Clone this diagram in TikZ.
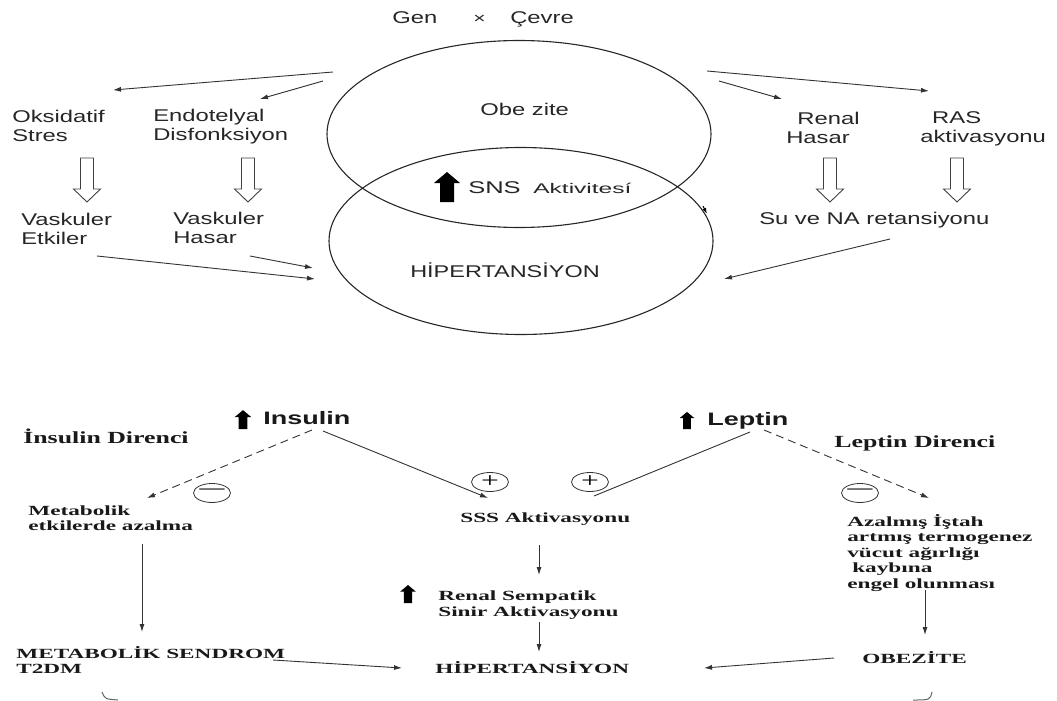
\documentclass[tikz,border=0pt]{standalone}
\usepackage{fontspec}
\usepackage{graphicx}
\setmainfont{Liberation Serif}
\setsansfont{Liberation Sans}
\usetikzlibrary{arrows.meta,shapes.geometric}
\tikzset{
  blkup/.pic={\fill[black] (-7,0) -- (7,0) -- (7,-19) -- (13,-19) -- (0,-30) -- (-13,-19) -- (-7,-19) -- cycle;},
  hollowdn/.pic={\draw[black!75, line width=0.9pt] (-6.5,0) -- (6.5,0) -- (6.5,31) -- (13.5,31) -- (0,44) -- (-13.5,31) -- (-6.5,31) -- cycle;},
  sansbase/.style={inner sep=0, align=left, text=black!85},
  sans/.style={sansbase, font=\sffamily\fontsize{17}{19}\selectfont, xscale=1.4},
  sansb/.style={font=\sffamily\bfseries\fontsize{18}{18}\selectfont, xscale=1.5, inner sep=0, text=black!90},
  serbase/.style={inner sep=0, align=left, text=black!90},
  ser/.style={serbase, font=\bfseries\fontsize{14}{15.5}\selectfont, xscale=1.66},
  serbig/.style={serbase, font=\bfseries\fontsize{17}{17}\selectfont, xscale=1.52},
  venn/.style={draw=black!85, line width=1.1pt, ellipse, inner sep=0, minimum width=384, minimum height=187},
  sgn/.style={draw=black!80, line width=0.8pt, ellipse, inner sep=0, minimum width=37, minimum height=19},
  arr/.style={draw=black!80, line width=0.9pt, -{Latex[length=8pt,width=5pt]}},
  dsh/.style={arr, dash pattern=on 8pt off 5pt},
  plain/.style={draw=black!80, line width=0.9pt}
}
\begin{document}
\begin{tikzpicture}[x=1pt,y=-1pt]
\useasboundingbox (0,0) rectangle (1057,701);

% ---------- top part ----------
\node[sans, anchor=base west] (gen) at (392,24) {Gen};
\node[sansbase, anchor=base west, font=\sffamily\fontsize{15}{15}\selectfont, xscale=1.4] (kez) at (473,24) {×};
\node[sans, anchor=base west] (cevre) at (510,24) {Çevre};

\node[venn] (obe) at (519,134) {};
\node[venn] (hip) at (521,241) {};

\node[sans, anchor=base west] (obet) at (480,115) {Obe zite};
\pic at (447,202) {blkup};
\node[sansbase, anchor=base west, font=\sffamily\fontsize{17}{17}\selectfont, xscale=1.5] (sns) at (468,193) {SNS};
\node[sansbase, anchor=base west, font=\sffamily\fontsize{14}{14}\selectfont, xscale=1.75] (akt) at (533,193) {Aktivitesí};
\node[sansbase, anchor=base west, font=\sffamily\fontsize{17}{17}\selectfont, xscale=1.38] (hipt) at (410,277) {HİPERTANSİYON};

\node[sans, anchor=west] (oks) at (12,126) {Oksidatif\\Stres};
\node[sans, anchor=west] (endo) at (153,127) {Endotelyal\\Disfonksiyon};
\node[sans, anchor=west] (vask1) at (21,229) {Vaskuler\\Etkiler};
\node[sans, anchor=west] (vask2) at (173,228) {Vaskuler\\Hasar};
\node[sans, anchor=west] (renal) at (786,128) {\hspace*{8pt}Renal\\Hasar};
\node[sans, anchor=west] (ras) at (920,128.5) {\hspace*{8.5pt}RAS\\aktivasyonu};
\node[sans, anchor=base west] (su) at (759,224) {Su ve NA retansiyonu};

\pic at (87,158) {hollowdn};
\pic at (248,158) {hollowdn};
\pic at (830,158) {hollowdn};
\pic at (957,158) {hollowdn};

\coordinate (a1s) at (333,72);  \coordinate (a1e) at (113,90);
\coordinate (a2s) at (323,81);  \coordinate (a2e) at (260,99);
\coordinate (a3s) at (707,71);  \coordinate (a3e) at (929,91);
\coordinate (a4s) at (719,81);  \coordinate (a4e) at (782,99);
\coordinate (a5s) at (97,256);  \coordinate (a5e) at (315,279);
\coordinate (a6s) at (250,256); \coordinate (a6e) at (313,268);
\coordinate (a7s) at (890,239); \coordinate (a7e) at (724,279);
\coordinate (e1) at (703,206);  \coordinate (e2) at (707,214);
\draw[arr] (a1s) -- (a1e);
\draw[arr] (a2s) -- (a2e);
\draw[arr] (a3s) -- (a3e);
\draw[arr] (a4s) -- (a4e);
\draw[arr] (a5s) -- (a5e);
\draw[arr] (a6s) -- (a6e);
\draw[arr] (a7s) -- (a7e);
\draw[line width=1pt, -{Latex[length=6pt,width=4pt]}] (e1) -- (e2);

% ---------- bottom part ----------
\pic[scale=0.63] at (243,429) {blkup};
\node[sansb, anchor=base west] (ins) at (263,424) {Insulin};
\node[serbig, anchor=base west] (insd) at (23,443) {İnsulin Direnci};
\pic[scale=0.57] at (687,429) {blkup};
\node[sansb, anchor=base west] (lep) at (707,425) {Leptin};
\node[serbig, anchor=base west] (lepd) at (834,447) {Leptin Direnci};

\node[ser, anchor=west] (met) at (28,518) {Metabolik\\etkilerde azalma};
\node[ser, anchor=base west] (sss) at (460,522) {SSS Aktivasyonu};
\pic[scale=0.6] at (408,603) {blkup};
\node[ser, anchor=west] (rsa) at (438,605) {Renal Sempatik\\Sinir Aktivasyonu};
\node[ser, anchor=west] (aza) at (847,553) {Azalmış İştah\\artmış termogenez\\vücut ağırlığı\\\hspace*{3pt}kaybına\\engel olunması};
\node[ser, anchor=west] (ms) at (16,660) {METABOLİK SENDROM\\T2DM};
\node[ser, anchor=base west] (hipb) at (435,673) {HİPERTANSİYON};
\node[ser, anchor=base west] (obz) at (862,663) {OBEZİTE};

\node[sgn] (m1) at (212,493) {};
\node[inner sep=0] (m1s) at (m1) {\scalebox{2.6}[1]{\fontsize{21}{21}\selectfont −}};
\node[sgn] (p1) at (490,482) {};
\node[inner sep=0] (p1s) at (p1) {\scalebox{1.5}[1]{\fontsize{21}{21}\selectfont +}};
\node[sgn] (p2) at (590,482) {};
\node[inner sep=0] (p2s) at (p2) {\scalebox{1.5}[1]{\fontsize{21}{21}\selectfont +}};
\node[sgn] (m2) at (860,493) {};
\node[inner sep=0] (m2s) at (m2) {\scalebox{2.6}[1]{\fontsize{21}{21}\selectfont −}};

\coordinate (b1s) at (312,430); \coordinate (b1e) at (147,498);
\coordinate (b2s) at (323,431); \coordinate (b2e) at (488,498);
\coordinate (b3s) at (750,432); \coordinate (b3e) at (594,496);
\coordinate (b4s) at (764,430); \coordinate (b4e) at (929,498);
\coordinate (b5s) at (142,544); \coordinate (b5e) at (142,632);
\coordinate (b6s) at (539,545); \coordinate (b6e) at (539,575);
\coordinate (b7s) at (539,622); \coordinate (b7e) at (539,652);
\coordinate (b8s) at (925,590); \coordinate (b8e) at (925,635);
\coordinate (b9s) at (273,660); \coordinate (b9e) at (402,668);
\coordinate (b10s) at (834,658); \coordinate (b10e) at (704,668);
\draw[dsh] (b1s) -- (b1e);
\draw[arr] (b2s) -- (b2e);
\draw[plain] (b3s) -- (b3e);
\draw[dsh] (b4s) -- (b4e);
\draw[arr] (b5s) -- (b5e);
\draw[arr] (b6s) -- (b6e);
\draw[arr] (b7s) -- (b7e);
\draw[arr] (b8s) -- (b8e);
\draw[arr] (b9s) -- (b9e);
\draw[arr] (b10s) -- (b10e);

\coordinate (c1a) at (102,692); \coordinate (c1b) at (118,700);
\coordinate (c2a) at (913,700); \coordinate (c2b) at (932,692);
\draw[black!60, line width=1pt] (c1a) .. controls (105,699) .. (c1b);
\draw[black!60, line width=1pt] (c2a) .. controls (930,700) .. (c2b);
\end{tikzpicture}
\end{document}
